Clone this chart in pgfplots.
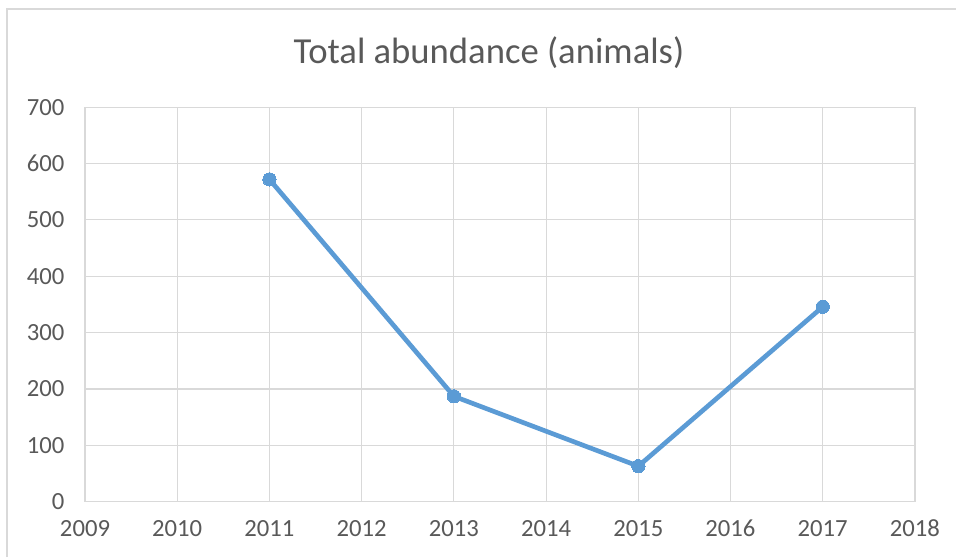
\documentclass[border=0pt]{standalone}
\usepackage{pgfplots}
\pgfplotsset{compat=1.18}
\usepackage{fontspec}
\setmainfont{Carlito}
\definecolor{exblue}{HTML}{5B9BD5}
\definecolor{gridgrey}{HTML}{D9D9D9}
\definecolor{txtgrey}{HTML}{595959}
\begin{document}
\begin{tikzpicture}[x=1pt,y=1pt]
\useasboundingbox (0,0) rectangle (717,417.75);
\draw[gridgrey, line width=0.8pt] (5.25,0) -- (5.25,411) -- (717,411);
\node[txtgrey, font=\fontsize{27.5}{32}\selectfont, anchor=base, inner sep=0pt] at (366.75,370) {Total abundance (animals)};
\begin{axis}[
  at={(63.75pt,41.5pt)}, anchor=south west,
  scale only axis, width=622.5pt, height=295.8pt,
  xmin=2009, xmax=2018, ymin=0, ymax=700,
  xtick={2009,...,2018}, ytick={0,100,...,700},
  grid=major, major grid style={gridgrey, line width=0.8pt},
  axis line style={gridgrey, line width=0.8pt},
  major tick length=0pt,
  /pgf/number format/assume math mode=true,
  /pgf/number format/1000 sep={},
  tick label style={txtgrey, font=\fontsize{18.5}{22}\selectfont},
  xticklabel style={anchor=base, yshift=-26pt},
  yticklabel style={xshift=-12pt},
  clip=false,
]
\addplot[exblue, line width=3.5pt, mark=*, mark size=5pt, mark options={fill=exblue, draw=exblue, line width=0pt}]
  coordinates {(2011,572) (2013,187) (2015,63) (2017,346)};
\end{axis}
\end{tikzpicture}
\end{document}
